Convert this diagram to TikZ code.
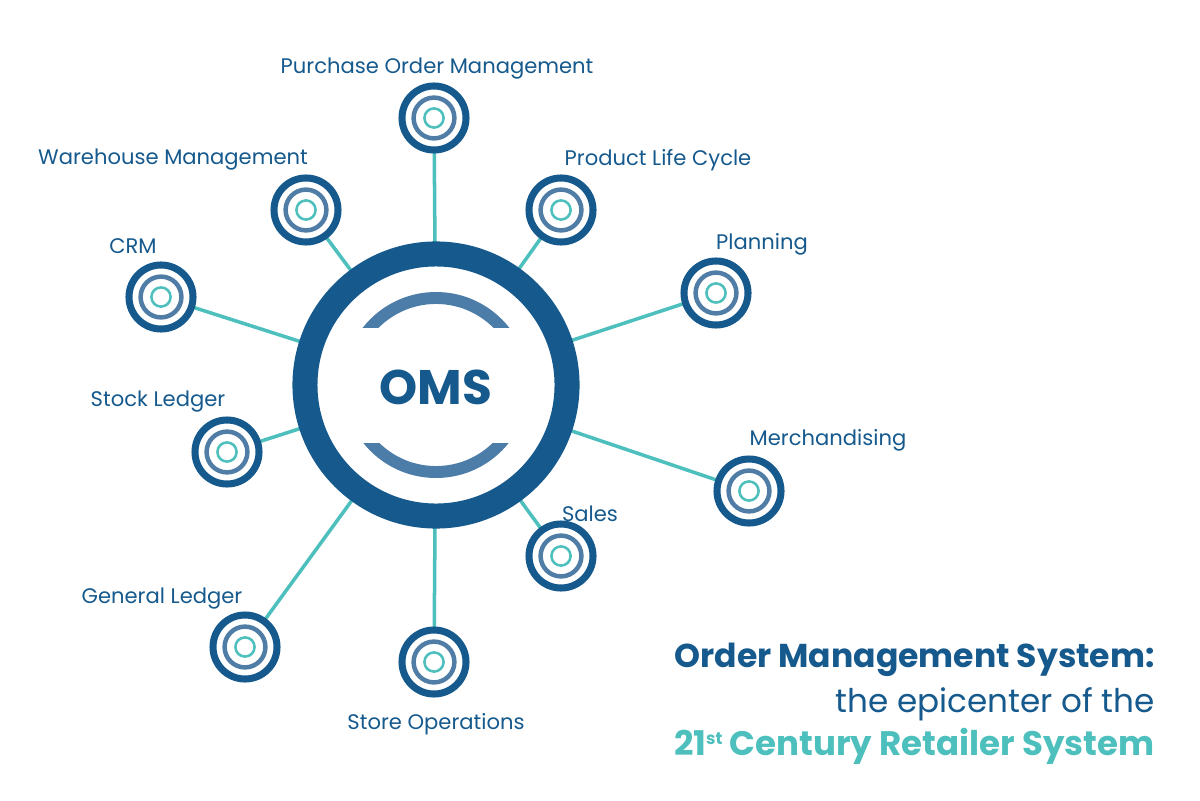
\documentclass[tikz,border=0pt]{standalone}
\usepackage{fontspec}
\setmainfont{Poppins}
\usetikzlibrary{backgrounds}
\definecolor{omsblue}{HTML}{15598D}
\definecolor{arcblue}{HTML}{4C7DA9}
\definecolor{midblue}{HTML}{4F7DA6}
\definecolor{omsteal}{HTML}{4DBFBD}

\begin{document}
\begin{tikzpicture}[x=0.025cm,y=-0.025cm,
  hub/.style={circle,draw=omsblue,fill=white,line width=17.8pt,minimum size=6.55cm,inner sep=0pt},
  spoke/.style={circle,draw=omsblue,fill=white,line width=5pt,minimum size=1.6cm,inner sep=0pt},
  midring/.style={draw=midblue,line width=3.2pt},
  inring/.style={draw=omsteal,line width=1.8pt},
  link/.style={draw=omsteal,line width=2.5pt},
  lbl/.style={text=omsblue,font=\fontsize{15}{18}\selectfont,inner sep=0pt},
  ttl/.style={anchor=east,inner sep=0pt,font=\fontsize{23.2}{28}\selectfont},
  ttlb/.style={anchor=east,inner sep=0pt,font=\fontsize{23.5}{28}\selectfont\bfseries}]
\useasboundingbox (0,0) rectangle (1200,800);
% hub
\node[hub] (oms) at (436,385) {};
\node[text=omsblue,font=\fontsize{34.5}{40}\selectfont\bfseries] (omstxt) at (436,387) {OMS};
\begin{scope}
  \clip (300,250) rectangle (580,327);
  \draw[arcblue,line width=8.5pt] (oms.center) circle (2.175cm);
\end{scope}
\begin{scope}
  \clip (300,443) rectangle (580,520);
  \draw[arcblue,line width=8.5pt] (oms.center) circle (2.175cm);
\end{scope}
% spokes
\foreach \nm/\px/\py in {pom/434/118, plc/561/210, wm/306/210, crm/161/297,
    plan/716/293, stock/227/452, merch/749/491, sales/561/556,
    gl/245/647, store/434/662}{
  \node[spoke] (\nm) at (\px,\py) {};
  \draw[midring] (\nm.center) circle (0.51cm);
  \draw[inring] (\nm.center) circle (0.24cm);
  \begin{scope}[on background layer]
    \draw[link] (oms.center) -- (\nm.center);
  \end{scope}
}
% labels
\node[lbl] (lpom) at (437,69) {Purchase Order Management};
\node[lbl] (lplc) at (658,160) {Product Life Cycle};
\node[lbl] (lwm) at (173,160) {Warehouse Management};
\node[lbl] (lcrm) at (133,246) {CRM};
\node[lbl] (lplan) at (762,244) {Planning};
\node[lbl] (lstock) at (158,402) {Stock Ledger};
\node[lbl] (lmerch) at (828,440) {Merchandising};
\node[lbl] (lsales) at (590,514) {Sales};
\node[lbl] (lgl) at (162,599) {General Ledger};
\node[lbl] (lstore) at (436,724) {Store Operations};
% title
\node[ttlb,text=omsblue] (t1) at (1155,660) {Order Management System:};
\node[ttl,text=omsblue] (t2) at (1155,704) {the epicenter of the};
\node[ttlb,text=omsteal,font=\fontsize{24.2}{28}\selectfont\bfseries] (t3) at (1155,746) {21{\fontsize{12}{14}\selectfont\raisebox{1.1ex}{st}} Century Retailer System};
\end{tikzpicture}
\end{document}
